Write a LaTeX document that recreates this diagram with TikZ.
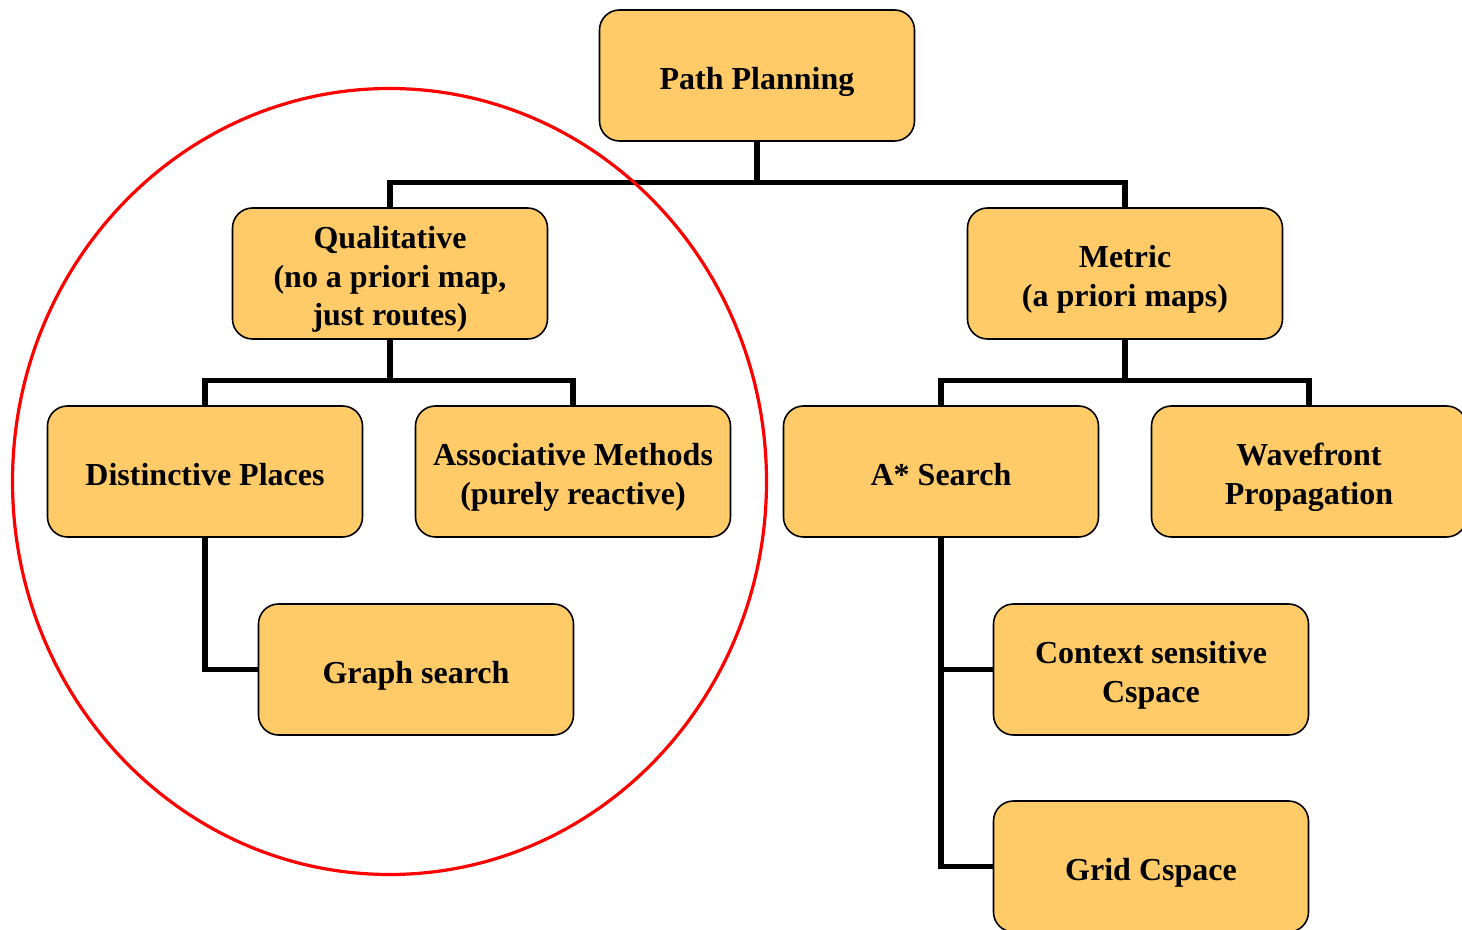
\documentclass[tikz,border=0pt]{standalone}
\usepackage{fontspec}
\setmainfont{Liberation Serif}
\usepackage{tikz}
\usetikzlibrary{shapes}
\usetikzlibrary{positioning}
\definecolor{boxfill}{HTML}{FECB68}
\tikzstyle{box}=[rectangle, rounded corners=10pt, draw=black, line width=0.8pt, fill=boxfill,
  minimum width=157.5pt, minimum height=65.5pt, inner xsep=0pt, inner ysep=0pt,
  text width=150pt, align=flush center,
  font=\bfseries\fontsize{16}{19.3}\selectfont,
  execute at begin node={\rule[-4pt]{0pt}{21.6pt}},
  execute at end node={\rule[-4pt]{0pt}{16.6pt}}]
\tikzstyle{conn}=[draw=black, line width=2.6pt]

\begin{document}
\begin{tikzpicture}[x=0.5pt, y=-0.5pt, node distance=99pt, on grid]
  \useasboundingbox (0,0) rectangle (1462,930);
%
  \node[box] (path) at (757,75.5) {Path Planning};
  \node[box] (qual) [below left = 99pt and 183.5pt of path] {Qualitative\\(no a priori map,\\just routes)};
  \node[box] (metric) [below right = 99pt and 184pt of path] {Metric\\(a priori maps)};
%
  \node[box] (dist) [below left = 99pt and 92.5pt of qual] {Distinctive Places};
  \node[box] (assoc) [below right = 99pt and 91.5pt of qual] {Associative Methods\\(purely reactive)};
  \node[box] (graph) [below right = 99pt and 105.5pt of dist] {Graph search};
%
  \node[box] (astar) [below left = 99pt and 92pt of metric] {A* Search};
  \node[box] (wave) [below right = 99pt and 92pt of metric] {Wavefront\\Propagation};
  \node[box] (ctx) [below right = 99pt and 105pt of astar] {Context sensitive\\Cspace};
  \node[box] (grid) [below of=ctx, node distance=98.5pt] {Grid Cspace};
%
  \draw[conn] (qual.north) -- ++(0,-25) -| (path.south);
  \draw[conn] (metric.north) -- ++(0,-25) -| (path.south);
  \draw[conn] (dist.north) -- ++(0,-24.5) -| (qual.south);
  \draw[conn] (assoc.north) -- ++(0,-24.5) -| (qual.south);
  \draw[conn] (astar.north) -- ++(0,-24.5) -| (metric.south);
  \draw[conn] (wave.north) -- ++(0,-24.5) -| (metric.south);
  \draw[conn] (dist.south) |- (graph.west);
  \draw[conn] (astar.south) |- (ctx.west);
  \draw[conn] (astar.south) |- (grid.west);
%
  \node[draw=red, line width=1.6pt, ellipse, minimum width=377pt, minimum height=393pt,
    inner sep=0pt] (focus) at (389.5,481.5) {};
\end{tikzpicture}
\end{document}
